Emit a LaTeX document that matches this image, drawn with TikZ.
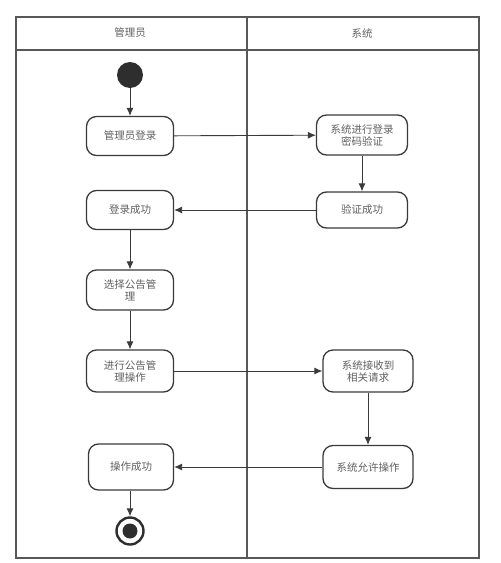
\documentclass[tikz,border=0pt]{standalone}
\usepackage{fontspec}
\setmainfont{Noto Sans CJK SC}
\usepackage{tikz}
\usetikzlibrary{arrows.meta}
\definecolor{cLine}{HTML}{3A3A3A}
\definecolor{cText}{HTML}{606060}

\begin{document}
\begin{tikzpicture}[x=1pt,y=-1pt,
    font=\fontsize{10.5}{12}\selectfont,
    act/.style={draw=cLine,line width=1.3pt,rounded corners=10pt,minimum width=87pt,
      minimum height=39pt,text=cText,align=center,inner sep=2pt,fill=white},
    flow/.style={draw=cLine,line width=0.9pt,-{Latex[length=8pt,width=7pt]}},
    lane/.style={draw=cLine!85,line width=1.3pt}]
  \useasboundingbox (0,0) rectangle (501,563);
  % swimlanes
  \draw[lane] (16,17) rectangle (479,558);
  \draw[lane] (16,50) -- (479,50);
  \draw[lane] (247,17) -- (247,558);
  \node[text=cText] (hAdmin) at (130,33) {管理员};
  \node[text=cText] (hSys) at (362,33) {系统};
  % activities
  \node[circle,fill=cLine!80!black,minimum size=26pt,inner sep=0pt] (start) at (130,75) {};
  \node[act] (login) at (130,136) {管理员登录};
  \node[act,minimum width=91pt,minimum height=40pt] (check) at (362,135) {系统进行登录\\密码验证};
  \node[act,minimum width=91pt,minimum height=36pt] (verOK) at (362,210) {验证成功};
  \node[act] (loginOK) at (130,210) {登录成功};
  \node[act,minimum height=40pt] (choose) at (130,290) {选择公告管\\理};
  \node[act,minimum height=42pt] (doOp) at (130,371) {进行公告管\\理操作};
  \node[act,minimum width=90pt,minimum height=42pt] (recv) at (368,371) {系统接收到\\相关请求};
  \node[act,minimum width=90pt,minimum height=43pt] (allow) at (368,467) {系统允许操作};
  \node[act,minimum width=85pt,minimum height=46pt] (opOK) at (131,467) {操作成功};
  \node[circle,draw=cLine!80!black,line width=2.4pt,minimum size=27pt,inner sep=0pt] (stop) at (130,531) {};
  \fill[cLine!80!black] (stop) circle (7.5pt);
  % flows
  \draw[flow] (start) -- (login);
  \draw[flow] (login) -- (check);
  \draw[flow] (check) -- (verOK);
  \draw[flow] (verOK) -- (loginOK);
  \draw[flow] (loginOK) -- (choose);
  \draw[flow] (choose) -- (doOp);
  \draw[flow] (doOp) -- (recv);
  \draw[flow] (recv) -- (allow);
  \draw[flow] (allow) -- (opOK);
  \draw[flow] (opOK.south -| stop) -- (stop);
\end{tikzpicture}
\end{document}
